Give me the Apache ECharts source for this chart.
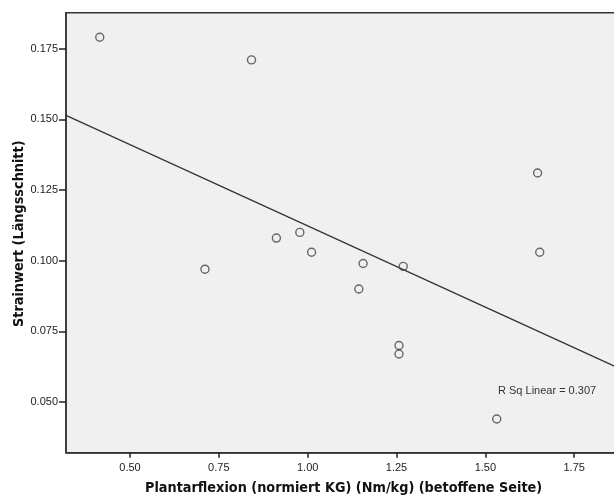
<!DOCTYPE html>
<html>
<head>
<meta charset="utf-8">
<script src="https://cdn.jsdelivr.net/npm/echarts@6/dist/echarts.min.js"></script>
<style>
html,body{margin:0;padding:0;background:#fff;overflow:hidden;width:614px;height:500px;}
#chart{width:640px;height:500px;}
</style>
</head>
<body>
<div id="chart"></div>
<script>
// Data
const plantarflexion = [0.415, 0.842, 0.711, 0.912, 0.978, 1.011, 1.156, 1.144, 1.269, 1.257, 1.257, 1.647, 1.653, 1.532];
const strainwert     = [0.179, 0.171, 0.097, 0.108, 0.110, 0.103, 0.099, 0.090, 0.098, 0.070, 0.067, 0.131, 0.103, 0.044];
const xTickValues = [0.50, 0.75, 1.00, 1.25, 1.50, 1.75];
const yTickValues = [0.050, 0.075, 0.100, 0.125, 0.150, 0.175];
const xTitle = 'Plantarflexion (normiert KG) (Nm/kg) (betoffene Seite)';
const yTitle = 'Strainwert (Längsschnitt)';
const rSqLabel = 'R Sq Linear = 0.307';

const X_MIN = 0.32, X_MAX = 1.88;
const Y_MIN = 0.0321, Y_MAX = 0.1877;

// Ordinary least squares fit line
const n = plantarflexion.length;
const mx = plantarflexion.reduce((a, b) => a + b, 0) / n;
const my = strainwert.reduce((a, b) => a + b, 0) / n;
let sxy = 0, sxx = 0;
for (let i = 0; i < n; i++) {
  sxy += (plantarflexion[i] - mx) * (strainwert[i] - my);
  sxx += (plantarflexion[i] - mx) ** 2;
}
const slope = sxy / sxx;
const intercept = my - slope * mx;
const fitLine = [[X_MIN, intercept + slope * X_MIN], [X_MAX, intercept + slope * X_MAX]];

const points = plantarflexion.map((x, i) => [x, strainwert[i]]);

const chart = echarts.init(document.getElementById('chart'), null, {renderer: 'canvas'});
const labelFont = {fontFamily: 'Liberation Sans, Arial, sans-serif', fontSize: 11, color: '#222'};
const titleFontCss = 'bold 14.3px "DejaVu Sans Condensed", "DejaVu Sans", sans-serif';

chart.setOption({
  animation: false,
  backgroundColor: '#ffffff',
  grid: {
    left: 66, top: 12.7, width: 554.4, height: 440,
    show: true, backgroundColor: '#f0f0f0', borderColor: '#333', borderWidth: 1.5
  },
  xAxis: {
    type: 'value', min: X_MIN, max: X_MAX,
    splitLine: {show: false},
    axisLine: {show: true, lineStyle: {color: '#333', width: 1.5}},
    axisTick: {show: true, length: 5, lineStyle: {color: '#222', width: 1.5}, customValues: xTickValues},
    axisLabel: Object.assign({margin: 10, customValues: xTickValues, formatter: v => v.toFixed(2)}, labelFont)
  },
  yAxis: {
    type: 'value', min: Y_MIN, max: Y_MAX,
    splitLine: {show: false},
    axisLine: {show: true, lineStyle: {color: '#333', width: 1.5}},
    axisTick: {show: true, length: 7, lineStyle: {color: '#222', width: 1.5}, customValues: yTickValues},
    axisLabel: Object.assign({margin: 8, customValues: yTickValues, formatter: v => v.toFixed(3)}, labelFont)
  },
  graphic: [
    {type: 'text', left: 145, top: 481, style: {text: xTitle, font: titleFontCss, fill: '#111'}},
    {type: 'text', x: 12, y: 327, rotation: Math.PI / 2, style: {text: yTitle, font: titleFontCss, fill: '#111', textAlign: 'left', textVerticalAlign: 'top'}},
    {type: 'text', left: 498, top: 385, style: {text: rSqLabel, font: '11px "Liberation Sans", Arial, sans-serif', fill: '#333'}}
  ],
  series: [
    {
      type: 'line', data: fitLine, symbol: 'none', silent: true,
      lineStyle: {color: '#333', width: 1.2}, clip: true, z: 2
    },
    {
      type: 'scatter', data: points, symbol: 'circle', symbolSize: 8,
      itemStyle: {color: 'rgba(0,0,0,0)', borderColor: '#444', borderWidth: 1.4}, z: 3
    }
  ]
});
</script>
</body>
</html>
